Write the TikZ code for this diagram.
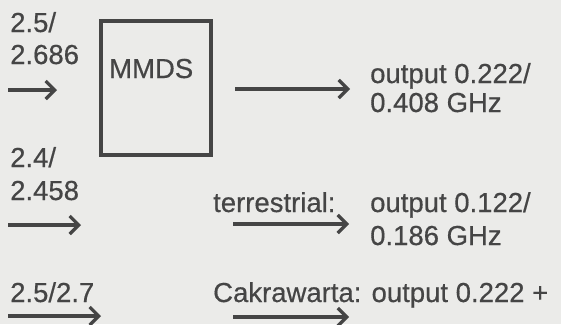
\documentclass[tikz,border=0pt]{standalone}
\usepackage{fontspec}
\setmainfont[FakeBold=0.5]{Liberation Sans}
\usetikzlibrary{arrows.meta}
\definecolor{ink}{HTML}{454545}
\definecolor{paper}{HTML}{EBEBE9}
\begin{document}
\begin{tikzpicture}[x=1pt,y=-1pt,
  lbl/.style={anchor=base west, inner sep=0pt, text=ink, font=\fontsize{27.5}{31}\selectfont},
  arr/.style={draw=ink, line width=3.2pt, -{Straight Barb[length=9pt,width=18pt]}},
  boxstyle/.style={draw=ink, line width=4pt, minimum width=110pt, minimum height=134pt, inner sep=0pt, outer sep=0pt}]
\fill[paper] (0,0) rectangle (561,324);
\useasboundingbox (0,0) rectangle (561,324);
% box
\node[boxstyle] (box) at (156,88) {};
\node[lbl] (mmds) at (109,78) {MMDS};
% row 1
\node[lbl] (a1) at (10,32) {2.5/};
\node[lbl] (a2) at (10,64) {2.686};
\coordinate (p1s) at (8,90);
\coordinate (p1e) at (57,90);
\draw[arr] (p1s) -- (p1e);
\coordinate (p2s) at (235,89);
\coordinate (p2e) at (350,89);
\draw[arr] (p2s) -- (p2e);
\node[lbl] (o1) at (370,83) {output 0.222/};
\node[lbl] (o2) at (370,112) {0.408 GHz};
% row 2
\node[lbl] (b1) at (10,167) {2.4/};
\node[lbl] (b2) at (10,200) {2.458};
\coordinate (p3s) at (8,225);
\coordinate (p3e) at (81,225);
\draw[arr] (p3s) -- (p3e);
\node[lbl] (t1) at (213,212) {terrestrial:};
\coordinate (p4s) at (233,224);
\coordinate (p4e) at (349,224);
\draw[arr] (p4s) -- (p4e);
\node[lbl] (o3) at (370,212) {output 0.122/};
\node[lbl] (o4) at (370,245) {0.186 GHz};
% row 3
\node[lbl] (c1) at (10,302) {2.5/2.7};
\coordinate (p5s) at (8,316);
\coordinate (p5e) at (101,316);
\draw[arr] (p5s) -- (p5e);
\node[lbl] (k1) at (213,302) {Cakrawarta: output 0.222 +};
\coordinate (p6s) at (233,317);
\coordinate (p6e) at (349,317);
\draw[arr] (p6s) -- (p6e);
\end{tikzpicture}
\end{document}
